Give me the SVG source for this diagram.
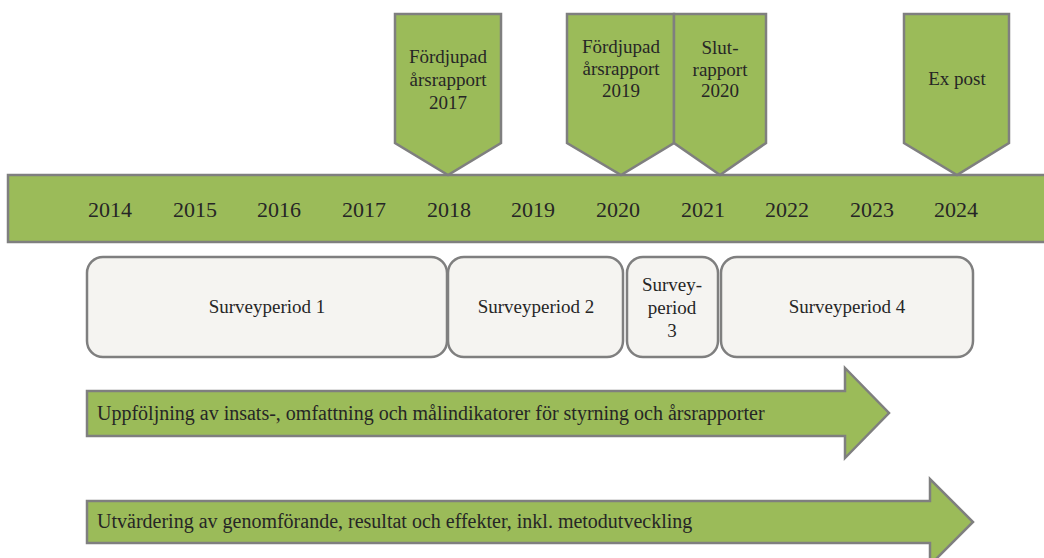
<svg xmlns="http://www.w3.org/2000/svg" width="1044" height="558" viewBox="0 0 1044 558">
<style>
.g{fill:#9bbb59;stroke:#7f7f7f;stroke-width:2.5;stroke-linejoin:miter}
.b{fill:#f5f4f1;stroke:#7f7f7f;stroke-width:2.5}
text{font-family:'Liberation Serif','Times New Roman',serif;fill:#262626;font-size:19px}
.c{text-anchor:middle}
.y{font-size:22px}
.a{font-size:20px}
</style>
<rect width="1044" height="558" fill="#ffffff"/>
<g id="timeline">
<rect class="g" x="8" y="175" width="1040" height="67"/>
<text class="c y" x="110" y="217">2014</text>
<text class="c y" x="195" y="217">2015</text>
<text class="c y" x="279" y="217">2016</text>
<text class="c y" x="364" y="217">2017</text>
<text class="c y" x="449" y="217">2018</text>
<text class="c y" x="533" y="217">2019</text>
<text class="c y" x="618" y="217">2020</text>
<text class="c y" x="703" y="217">2021</text>
<text class="c y" x="787" y="217">2022</text>
<text class="c y" x="872" y="217">2023</text>
<text class="c y" x="956" y="217">2024</text>
</g>
<g id="m2017">
<polygon class="g" points="395,14 501,14 501,143 448,175 395,143"/>
<text class="c" x="448" y="63">Fördjupad</text>
<text class="c" x="448" y="86">årsrapport</text>
<text class="c" x="448" y="109">2017</text>
</g>
<g id="m2019">
<polygon class="g" points="567,14 674,14 674,143 621,175 567,143"/>
<text class="c" x="621" y="53">Fördjupad</text>
<text class="c" x="621" y="75">årsrapport</text>
<text class="c" x="621" y="97">2019</text>
</g>
<g id="m2020">
<polygon class="g" points="674,14 766,14 766,143 720,175 674,143"/>
<text class="c" x="720" y="54">Slut-</text>
<text class="c" x="720" y="76">rapport</text>
<text class="c" x="720" y="97">2020</text>
</g>
<g id="expost">
<polygon class="g" points="904,14 1009,14 1009,143 957,175 904,143"/>
<text class="c" x="957" y="85">Ex post</text>
</g>
<g id="sp1">
<rect class="b" x="87" y="257" width="360" height="100" rx="16"/>
<text class="c" x="267" y="313">Surveyperiod 1</text>
</g>
<g id="sp2">
<rect class="b" x="448" y="257" width="175" height="100" rx="16"/>
<text class="c" x="536" y="313">Surveyperiod 2</text>
</g>
<g id="sp3">
<rect class="b" x="627" y="257" width="91" height="100" rx="16"/>
<text class="c" x="672" y="291">Survey-</text>
<text class="c" x="672" y="314">period</text>
<text class="c" x="672" y="337">3</text>
</g>
<g id="sp4">
<rect class="b" x="721" y="257" width="252" height="100" rx="16"/>
<text class="c" x="847" y="313">Surveyperiod 4</text>
</g>
<g id="arrow1">
<polygon class="g" points="87,391 845,391 845,368 889,413 845,458 845,436 87,436"/>
<text class="a" x="97" y="420">Uppföljning av insats-, omfattning och målindikatorer för styrning och årsrapporter</text>
</g>
<g id="arrow2">
<polygon class="g" points="87,501 930,501 930,479 973,522 930,565 930,543 87,543"/>
<text class="a" x="97" y="528">Utvärdering av genomförande, resultat och effekter, inkl. metodutveckling</text>
</g>
</svg>
